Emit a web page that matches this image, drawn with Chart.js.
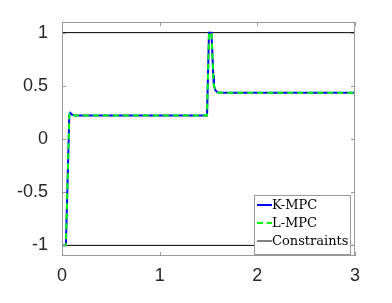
<!DOCTYPE html>
<html>
<head>
<meta charset="utf-8">
<script src="https://cdn.jsdelivr.net/npm/chart.js@4"></script>
<style>
  html, body { margin: 0; padding: 0; background: #fff; }
  #wrap { width: 392px; height: 303px; }
</style>
</head>
<body>
<div id="wrap"><canvas id="chart" width="392" height="303"></canvas></div>
<script>
// values
const timeVals = [0, 0.04, 0.075, 0.085, 0.1, 0.13, 1.485, 1.505, 1.53, 1.54, 1.548, 1.556, 1.57, 1.59, 1.63, 1.7, 3];
const kmpcVals = [-1, -1, 0.23, 0.245, 0.23, 0.222, 0.222, 1, 1, 0.8, 0.6, 0.5, 0.46, 0.44, 0.435, 0.434, 0.434];
const lmpcVals = [-1, -1, 0.23, 0.245, 0.23, 0.222, 0.222, 1, 1, 0.8, 0.6, 0.5, 0.46, 0.44, 0.435, 0.434, 0.434];
const limitTime = [0, 3];
const upperLimit = [1, 1];
const lowerLimit = [-1, -1];
const xTicks = [0, 1, 2, 3];
const yTicks = [-1, -0.5, 0, 0.5, 1];

const toPts = (xs, ys) => xs.map((x, i) => ({ x: x, y: ys[i] }));

// axes box, inward ticks and a legend inside the plot (MATLAB look)
const matlabFrame = {
  id: 'matlabFrame',
  afterDraw(chart) {
    const ctx = chart.ctx;
    const a = chart.chartArea;
    const xs = chart.scales.x, ys = chart.scales.y;
    ctx.save();
    ctx.strokeStyle = '#999';
    ctx.lineWidth = 1;
    ctx.strokeRect(a.left + 0.5, a.top + 0.5, a.right - a.left - 1, a.bottom - a.top - 1);
    ctx.beginPath();
    xTicks.forEach(v => {
      const p = Math.round(xs.getPixelForValue(v)) + 0.5;
      ctx.moveTo(p, a.bottom); ctx.lineTo(p, a.bottom - 4);
      ctx.moveTo(p, a.top); ctx.lineTo(p, a.top + 4);
    });
    yTicks.forEach(v => {
      const p = Math.round(ys.getPixelForValue(v)) + 0.5;
      ctx.moveTo(a.left, p); ctx.lineTo(a.left + 4, p);
      ctx.moveTo(a.right, p); ctx.lineTo(a.right - 4, p);
    });
    ctx.stroke();

    // legend box
    const bx = 254, by = 195, bw = 97, bh = 60;
    ctx.fillStyle = '#fff';
    ctx.fillRect(bx, by, bw, bh);
    ctx.strokeStyle = '#999';
    ctx.strokeRect(bx + 0.5, by + 0.5, bw - 1, bh - 1);
    ctx.font = '13px "DejaVu Serif"';
    ctx.textBaseline = 'middle';
    const items = [chart.data.datasets[0], chart.data.datasets[1], chart.data.datasets[2]];
    items.forEach((ds, i) => {
      const y = by + 10 + i * 18;
      ctx.beginPath();
      ctx.strokeStyle = ds.borderColor;
      ctx.lineWidth = ds.borderWidth;
      ctx.setLineDash(ds.borderDash || []);
      ctx.moveTo(bx + 3, y); ctx.lineTo(bx + 18, y);
      ctx.stroke();
      ctx.setLineDash([]);
      ctx.fillStyle = '#000';
      ctx.fillText(ds.label, bx + 18, y + 1);
    });
    ctx.restore();
  }
};

new Chart(document.getElementById('chart').getContext('2d'), {
  type: 'line',
  data: {
    datasets: [
      {
        label: 'K-MPC',
        data: toPts(timeVals, kmpcVals),
        borderColor: '#0000ff',
        borderWidth: 2,
        pointRadius: 0,
        tension: 0,
        order: 2
      },
      {
        label: 'L-MPC',
        data: toPts(timeVals, lmpcVals),
        borderColor: '#00ff00',
        borderWidth: 2,
        borderDash: [6, 4],
        pointRadius: 0,
        tension: 0,
        order: 1
      },
      {
        label: 'Constraints',
        data: toPts(limitTime, upperLimit),
        borderColor: '#000',
        borderWidth: 1,
        pointRadius: 0,
        order: 3
      },
      {
        label: 'lower',
        data: toPts(limitTime, lowerLimit),
        borderColor: '#000',
        borderWidth: 1,
        pointRadius: 0,
        order: 3
      }
    ]
  },
  options: {
    responsive: false,
    animation: false,
    layout: { padding: { top: 22, right: 37, bottom: 0, left: 0 } },
    plugins: { legend: { display: false }, tooltip: { enabled: false } },
    scales: {
      x: {
        type: 'linear',
        min: 0,
        max: 3,
        afterBuildTicks: s => { s.ticks = xTicks.map(v => ({ value: v })); },
        afterFit: s => { s.height = 47; },
        grid: { display: false },
        border: { display: false },
        ticks: {
          padding: 1,
          color: '#262626',
          font: { family: '"Liberation Sans"', size: 18 },
          callback: v => String(v),
          maxRotation: 0
        }
      },
      y: {
        type: 'linear',
        min: -1.1,
        max: 1.1,
        afterBuildTicks: s => { s.ticks = yTicks.map(v => ({ value: v })); },
        afterFit: s => { s.width = 62; },
        grid: { display: false },
        border: { display: false },
        ticks: {
          padding: 6,
          color: '#262626',
          font: { family: '"Liberation Sans"', size: 18 },
          callback: v => String(v)
        }
      }
    }
  },
  plugins: [matlabFrame]
});
</script>
</body>
</html>
